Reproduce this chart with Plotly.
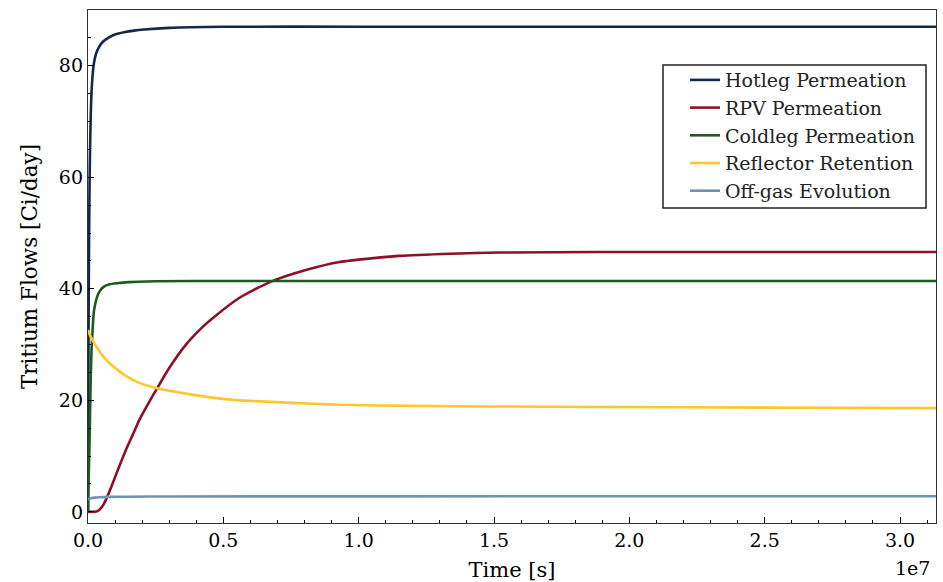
import plotly.graph_objects as go

# ---- data (time in 1e6 s, flows in Ci/day) ----
hot_t = [0, 0.01, 0.03, 0.06, 0.1, 0.15, 0.22, 0.3, 0.4, 0.55, 0.78, 1.0, 1.33, 1.7, 2.07, 3.0, 5.0, 10, 20, 31.5]
hot_v = [0, 20, 42, 60, 71, 77, 80.5, 82.2, 83.3, 84.3, 85.1, 85.6, 86.0, 86.3, 86.5, 86.8, 87.0, 87.0, 87.0, 87.0]

rpv_t = [0, 0.3, 0.4, 0.5, 0.58, 0.66, 0.78, 0.91, 1.15, 1.4, 1.65, 1.9, 2.33, 2.51, 3.0, 3.62, 4.2, 4.67,
         5.6, 6.72, 8.08, 9.3, 11.5, 13.4, 15.2, 18.9, 25, 31.5]
rpv_v = [0, 0.05, 0.3, 0.8, 1.4, 2.15, 3.5, 5.1, 8.1, 11.1, 13.8, 16.5, 20.3, 21.8, 25.8, 30.0, 33.0, 35.0,
         38.4, 41.2, 43.4, 44.8, 45.9, 46.3, 46.5, 46.6, 46.6, 46.6]

cold_t = [0, 0.02, 0.05, 0.07, 0.1, 0.13, 0.17, 0.22, 0.34, 0.45, 0.59, 0.8, 1.07, 1.5, 2.5, 5, 10, 20, 31.5]
cold_v = [0, 5, 11, 16, 24, 29, 32.6, 36.0, 38.6, 39.7, 40.4, 40.8, 41.0, 41.2, 41.35, 41.4, 41.4, 41.4, 41.4]

refl_t = [0, 0.1, 0.3, 0.66, 1.16, 1.77, 2.51, 3.62, 4.73, 5.6, 7.8, 9.3, 12, 15, 18.9, 25, 31.5]
refl_v = [32.6, 31.4, 29.7, 27.3, 25.2, 23.4, 22.2, 21.2, 20.4, 20.0, 19.5, 19.2, 19.0, 18.9, 18.8, 18.7, 18.6]

gas_t = [0, 0.1, 0.25, 0.42, 0.8, 1.5, 3, 10, 31.5]
gas_v = [2.25, 2.4, 2.55, 2.62, 2.68, 2.72, 2.75, 2.78, 2.8]

names = ["Hotleg Permeation", "RPV Permeation", "Coldleg Permeation", "Reflector Retention", "Off-gas Evolution"]
colors = ["#13294B", "#8C1026", "#1D5A1F", "#FFC72C", "#6F92B3"]

x_ticks = [0, 0.5e7, 1.0e7, 1.5e7, 2.0e7, 2.5e7, 3.0e7]
x_ticktext = ["0.0", "0.5", "1.0", "1.5", "2.0", "2.5", "3.0"]
y_ticks = [0, 20, 40, 60, 80]

series = [(hot_t, hot_v), (rpv_t, rpv_v), (cold_t, cold_v), (refl_t, refl_v), (gas_t, gas_v)]

FONT = "DejaVu Serif"
fig = go.Figure()
for (t, v), name, c in zip(series, names, colors):
    fig.add_trace(go.Scatter(
        x=[ti * 1e6 for ti in t], y=v, mode="lines", name=name,
        line=dict(color=c, width=2.6, shape="spline", smoothing=0.6),
    ))

fig.update_layout(
    width=943, height=582,
    margin=dict(l=88, r=7, t=10, b=59),
    paper_bgcolor="white", plot_bgcolor="white",
    font=dict(family=FONT, size=19, color="black"),
    showlegend=True,
    legend=dict(
        x=0.704, y=0.9005, xanchor="left", yanchor="top",
        bgcolor="rgba(0,0,0,0)", borderwidth=0,
        font=dict(family=FONT, size=19, color="#222"),
        tracegroupgap=0,
    ),
)
# legend frame
fig.add_shape(
    type="rect", xref="paper", yref="paper",
    x0=(663 - 88) / 848, x1=(926 - 88) / 848,
    y0=(523 - 208) / 513, y1=(523 - 65) / 513,
    line=dict(color="#222", width=1.5), fillcolor="white", layer="below",
)
fig.update_xaxes(
    range=[0, 3.133e7], tickvals=x_ticks, ticktext=x_ticktext,
    ticks="inside", ticklen=6, tickwidth=1, tickcolor="black",
    minor=dict(dtick=1e6, ticks="inside", ticklen=3, tickcolor="black"),
    showgrid=False, zeroline=False, automargin=False,
    showline=True, linecolor="#333", linewidth=1.3, mirror=True,
    title=dict(text="Time [s]", font=dict(family=FONT, size=21), standoff=12),
    tickfont=dict(family=FONT, size=19),
)
fig.update_yaxes(
    range=[-2, 90], tickvals=y_ticks,
    ticks="inside", ticklen=6, tickwidth=1, tickcolor="black",
    minor=dict(dtick=5, ticks="inside", ticklen=3, tickcolor="black"),
    showgrid=False, zeroline=False, automargin=False,
    showline=True, linecolor="#333", linewidth=1.3, mirror=True,
    title=dict(text="Tritium Flows [Ci/day]", font=dict(family=FONT, size=21.5), standoff=15),
    tickfont=dict(family=FONT, size=19),
)
fig.add_annotation(
    text="1e7", xref="paper", yref="paper", x=0.995, y=-0.088,
    xanchor="right", yanchor="middle", showarrow=False,
    font=dict(family=FONT, size=19, color="black"),
)

fig.write_html("out.html")
